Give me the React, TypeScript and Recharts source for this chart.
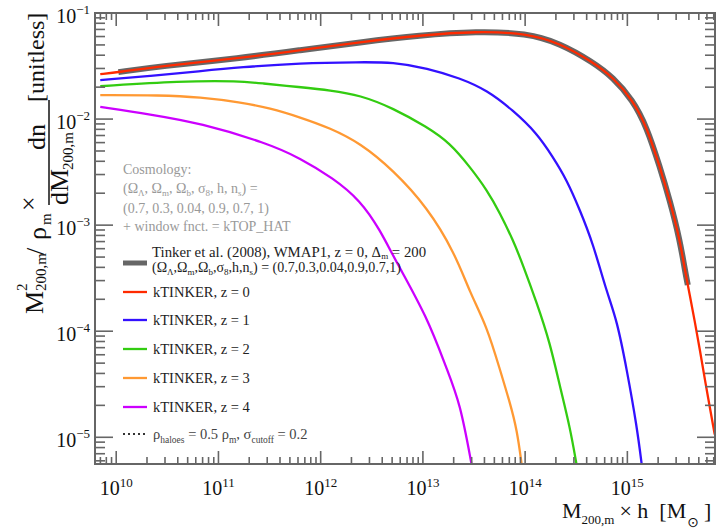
import React from 'react';
import { LineChart, Line, XAxis, YAxis } from 'recharts';

// ---------- data (halo mass M200m*h [Msun], M^2/rho_m dn/dM) ----------
const tinkerMass = [1.05e10, 2.69e10, 1.63e11, 6.29e11, 2.43e12, 9.37e12, 3.38e13, 1.04e14, 2.19e14, 4.6e14, 7.22e14, 1.13e15, 1.55e15, 2.08e15, 2.6e15, 3.26e15, 3.65e15, 3.9e15];
const tinkerValue = [0.0277, 0.0315, 0.0375, 0.0446, 0.053, 0.0617, 0.0673, 0.0644, 0.0519, 0.0344, 0.0248, 0.0151, 0.0084, 0.00353, 0.00172, 0.000726, 0.000379, 0.000273];

const z0Mass = [6.98e9, 1.05e10, 2.69e10, 1.63e11, 6.29e11, 2.43e12, 9.37e12, 3.38e13, 1.04e14, 2.19e14, 4.6e14, 7.22e14, 1.13e15, 1.55e15, 2.08e15, 2.6e15, 3.26e15, 3.65e15, 4.08e15, 4.57e15, 5.12e15, 5.73e15, 7.16e15];
const z0Value = [0.0265, 0.0277, 0.0315, 0.0375, 0.0446, 0.053, 0.0617, 0.0673, 0.0644, 0.0519, 0.0344, 0.0248, 0.0151, 0.0084, 0.00353, 0.00172, 0.000726, 0.000379, 0.00022, 0.000123, 6.69e-5, 3.49e-5, 1.06e-5];

const z1Mass = [6.98e9, 2.15e10, 6.62e10, 1.63e11, 6.29e11, 2.43e12, 5.1e12, 1.1e13, 2.31e13, 4.24e13, 7.6e13, 1.3e14, 1.87e14, 2.56e14, 3.43e14, 4.6e14, 6.31e14, 7.89e14, 9.88e14, 1.24e15, 1.39e15];
const z1Value = [0.0233, 0.0254, 0.0283, 0.0308, 0.0337, 0.0344, 0.0344, 0.0302, 0.0243, 0.0187, 0.0121, 0.00738, 0.00439, 0.00266, 0.00139, 0.00068, 0.00023, 0.000128, 4.34e-5, 1.26e-5, 5.3e-6];

const z2Mass = [6.98e9, 4.22e10, 1.63e11, 2.56e11, 6.29e11, 1.24e12, 2.43e12, 5.1e12, 1.1e13, 1.84e13, 2.89e13, 4.24e13, 5.67e13, 7.6e13, 9.52e13, 1.3e14, 1.75e14, 2.19e14, 2.74e14, 3.21e14];
const z2Value = [0.0204, 0.0228, 0.0228, 0.0218, 0.02, 0.0187, 0.0168, 0.0127, 0.0084, 0.00594, 0.00353, 0.00214, 0.0013, 0.000726, 0.000422, 0.000185, 7.79e-5, 3.0e-5, 1.26e-5, 5.3e-6];

const z3Mass = [6.98e9, 2.69e10, 6.62e10, 1.63e11, 3.2e11, 6.29e11, 1.24e12, 2.43e12, 5.1e12, 1.1e13, 2.05e13, 2.89e13, 4.24e13, 5.67e13, 7.1e13, 8.32e13, 9.31e13];
const z3Value = [0.0168, 0.0168, 0.0161, 0.0144, 0.0127, 0.0104, 0.00822, 0.00594, 0.00331, 0.00148, 0.000548, 0.00023, 0.00011, 4.34e-5, 2.12e-5, 1.18e-5, 5.3e-6];

const z4Mass = [6.98e9, 2.15e10, 6.62e10, 2.99e11, 6.29e11, 1.32e12, 2.43e12, 3.81e12, 5.34e12, 1.1e13, 1.72e13, 2.31e13, 3.02e13];
const z4Value = [0.013, 0.0111, 0.00916, 0.00594, 0.00429, 0.00278, 0.00172, 0.000902, 0.000471, 0.000137, 4.34e-5, 2.12e-5, 5.3e-6];

const seriesNames = ['kTINKER, z = 0', 'kTINKER, z = 1', 'kTINKER, z = 2', 'kTINKER, z = 3', 'kTINKER, z = 4'];
const seriesMasses = [z0Mass, z1Mass, z2Mass, z3Mass, z4Mass];
const seriesValues = [z0Value, z1Value, z2Value, z3Value, z4Value];

const xMajorExp = [10, 11, 12, 13, 14, 15];
const yMajorExp = [-5, -4, -3, -2, -1];
const xDomain = [6.2e9, 7.2e15];
const yDomain = [5.6e-6, 0.1];

// ---------- styles ----------
const seriesColors = ['#ff2a00', '#3311ff', '#33cc11', '#ff9933', '#cc00ff'];
const FONT = '"Liberation Serif", "Times New Roman", serif';
const AXIS = '#666';
const PLOT_LEFT = 95;
const PLOT_TOP = 13;
const PLOT_RIGHT = 715;
const PLOT_BOTTOM = 464;

const toPoints = (m: number[], v: number[]) => m.map((mm, i) => ({ m: mm, v: v[i] }));

const buildTicks = (majors: number[], lo: number, hi: number) => {
  const out: number[] = [];
  for (let e = majors[0] - 1; e <= majors[majors.length - 1]; e++) {
    for (let k = 1; k <= 9; k++) {
      const t = k * Math.pow(10, e);
      if (t >= lo * 0.999 && t <= hi * 1.001) out.push(t);
    }
  }
  return out;
};
const xTicks = buildTicks(xMajorExp, xDomain[0], xDomain[1]);
const yTicks = buildTicks(yMajorExp, yDomain[0], yDomain[1]);

const isMajor = (v: number) => Math.abs(Math.log10(v) - Math.round(Math.log10(v))) < 1e-6;
const expLabel = (v: number) => {
  const e = Math.round(Math.log10(v));
  return e < 0 ? '\u2212' + String(-e) : String(e);
};

function XTick(props: any) {
  const { x, y, payload } = props;
  const v = payload.value;
  const major = isMajor(v);
  const len = major ? 13 : 7;
  return (
    <g>
      <line x1={x} x2={x} y1={y} y2={y - len} stroke={AXIS} strokeWidth={1.6} />
      <line x1={x} x2={x} y1={PLOT_TOP} y2={PLOT_TOP + len} stroke={AXIS} strokeWidth={1.6} />
      {major && (
        <text x={x} y={495} textAnchor="middle" fontFamily={FONT} fontSize={20} fill="#111">
          10<tspan dy={-8} fontSize={13}>{expLabel(v)}</tspan>
        </text>
      )}
    </g>
  );
}

function YTick(props: any) {
  const { x, y, payload } = props;
  const v = payload.value;
  const major = isMajor(v);
  const len = major ? 18 : 10;
  return (
    <g>
      <line x1={x} x2={x + len} y1={y} y2={y} stroke={AXIS} strokeWidth={1.6} />
      <line x1={PLOT_RIGHT} x2={PLOT_RIGHT - len} y1={y} y2={y} stroke={AXIS} strokeWidth={1.6} />
      {major && (
        <text x={x - 5} y={y + 10} textAnchor="end" fontFamily={FONT} fontSize={20} fill="#111">
          10<tspan dy={-9} fontSize={13}>{expLabel(v)}</tspan>
        </text>
      )}
    </g>
  );
}

// rotated text helper: screen y where text starts (bottom), screen x of baseline
function RT({ sy, sx, size, children, anchor }: any) {
  return (
    <text x={-sy} y={sx} fontSize={size} fontFamily={FONT} fill="#111" textAnchor={anchor || 'start'}>
      {children}
    </text>
  );
}

const legendRows = [292, 320, 349, 378, 407];

export default function App() {
  const tinker = toPoints(tinkerMass, tinkerValue);
  return (
    <div style={{ position: 'absolute', left: 0, top: 0, width: 716, height: 529, background: '#fff', overflow: 'hidden' }}>
      <LineChart width={716} height={529} margin={{ top: PLOT_TOP, right: 716 - PLOT_RIGHT, bottom: 0, left: 0 }}>
        <XAxis
          dataKey="m"
          type="number"
          scale="log"
          domain={xDomain}
          allowDataOverflow
          ticks={xTicks}
          interval={0}
          tick={<XTick />}
          tickSize={0}
          tickMargin={0}
          tickLine={false}
          axisLine={false}
          height={529 - PLOT_BOTTOM}
        />
        <YAxis
          type="number"
          scale="log"
          domain={yDomain}
          allowDataOverflow
          ticks={yTicks}
          interval={0}
          tick={<YTick />}
          tickSize={0}
          tickMargin={0}
          tickLine={false}
          axisLine={false}
          width={PLOT_LEFT}
        />
        <Line data={tinker} dataKey="v" type="basis" stroke="#666" strokeWidth={6} dot={false} isAnimationActive={false} />
        {seriesMasses.map((ms, i) => (
          <Line
            key={seriesNames[i]}
            data={toPoints(ms, seriesValues[i])}
            dataKey="v"
            name={seriesNames[i]}
            type="basis"
            stroke={seriesColors[i]}
            strokeWidth={2.3}
            dot={false}
            isAnimationActive={false}
          />
        ))}
      </LineChart>
      <svg width={716} height={529} style={{ position: 'absolute', left: 0, top: 0, pointerEvents: 'none', overflow: 'visible' }}>
        <rect x={PLOT_LEFT} y={PLOT_TOP} width={PLOT_RIGHT - PLOT_LEFT} height={PLOT_BOTTOM - PLOT_TOP} fill="none" stroke={AXIS} strokeWidth={2} />

        {/* y axis title */}
        <g transform="rotate(-90)">
          <RT sy={314} sx={43} size={26}>M</RT>
          <RT sy={291} sx={27} size={15}>2</RT>
          <RT sy={291} sx={46} size={15}>200,m</RT>
          <RT sy={255} sx={44} size={26}>/</RT>
          <RT sy={240} sx={46} size={26}>ρ</RT>
          <RT sy={225} sx={51} size={15}>m</RT>
          <RT sy={211} sx={37} size={26}>×</RT>
          <line x1={-205} x2={-100} y1={49} y2={49} stroke="#111" strokeWidth={1.5} />
          <RT sy={150} sx={45} size={26}>dn</RT>
          <RT sy={205} sx={68} size={26}>dM</RT>
          <RT sy={170} sx={73} size={15}>200,m</RT>
          <RT sy={102} sx={44} size={24}>[unitless]</RT>
        </g>

        {/* x axis title */}
        <text x={562} y={518} fontFamily={FONT} fontSize={22} fill="#111">
          M<tspan dy={6} fontSize={13}>200,m</tspan>
          <tspan dy={-6} dx={5}>× h</tspan>
          <tspan dx={11}>[M</tspan>
          <tspan dy={9} dx={1} fontSize={14} fontFamily={'"DejaVu Sans", sans-serif'}>⊙</tspan>
          <tspan dy={-9} dx={5}>]</tspan>
        </text>

        {/* cosmology text */}
        <g fontFamily={FONT} fontSize={14} fill="#999">
          <text x={123} y={174}>Cosmology:</text>
          <text x={123} y={193}>
            (Ω<tspan dy={3} fontSize={9}>Λ</tspan>
            <tspan dy={-3}>, Ω</tspan><tspan dy={3} fontSize={9}>m</tspan>
            <tspan dy={-3}>, Ω</tspan><tspan dy={3} fontSize={9}>b</tspan>
            <tspan dy={-3}>, σ</tspan><tspan dy={3} fontSize={9}>8</tspan>
            <tspan dy={-3}>, h, n</tspan><tspan dy={3} fontSize={9}>s</tspan>
            <tspan dy={-3}>) =</tspan>
          </text>
          <text x={123} y={213}>(0.7, 0.3, 0.04, 0.9, 0.7, 1)</text>
          <text x={123} y={231}>+ window fnct. = kTOP_HAT</text>
        </g>

        {/* legend */}
        <line x1={123} x2={147} y1={263} y2={263} stroke="#666" strokeWidth={5} />
        <g fontFamily={FONT} fill="#222">
          <text x={152} y={257} fontSize={14.8}>
            Tinker et al. (2008), WMAP1, z = 0, Δ<tspan dy={2} fontSize={9}>m</tspan>
            <tspan dy={-2}> = 200</tspan>
          </text>
          <text x={152} y={272} fontSize={14}>
            (Ω<tspan dy={3} fontSize={9}>Λ</tspan>
            <tspan dy={-3}>,Ω</tspan><tspan dy={3} fontSize={9}>m</tspan>
            <tspan dy={-3}>,Ω</tspan><tspan dy={3} fontSize={9}>b</tspan>
            <tspan dy={-3}>,σ</tspan><tspan dy={3} fontSize={9}>8</tspan>
            <tspan dy={-3}>,h,n</tspan><tspan dy={3} fontSize={9}>s</tspan>
            <tspan dy={-3}>) = (0.7,0.3,0.04,0.9,0.7,1)</tspan>
          </text>
        </g>
        {seriesNames.map((n, i) => (
          <g key={n}>
            <line x1={123} x2={147} y1={legendRows[i]} y2={legendRows[i]} stroke={seriesColors[i]} strokeWidth={2.3} />
            <text x={153} y={legendRows[i] + 5} fontFamily={FONT} fontSize={14.5} fill="#222">{n}</text>
          </g>
        ))}
        <line x1={123} x2={147} y1={434} y2={434} stroke="#333" strokeWidth={2} strokeDasharray="2 3" />
        <text x={153} y={439} fontFamily={FONT} fontSize={14.5} fill="#444">
          ρ<tspan dy={4} fontSize={9.5}>haloes</tspan>
          <tspan dy={-4}> = 0.5 ρ</tspan><tspan dy={4} fontSize={9.5}>m</tspan>
          <tspan dy={-4}>, σ</tspan><tspan dy={4} fontSize={9.5}>cutoff</tspan>
          <tspan dy={-4}> = 0.2</tspan>
        </text>
      </svg>
    </div>
  );
}
